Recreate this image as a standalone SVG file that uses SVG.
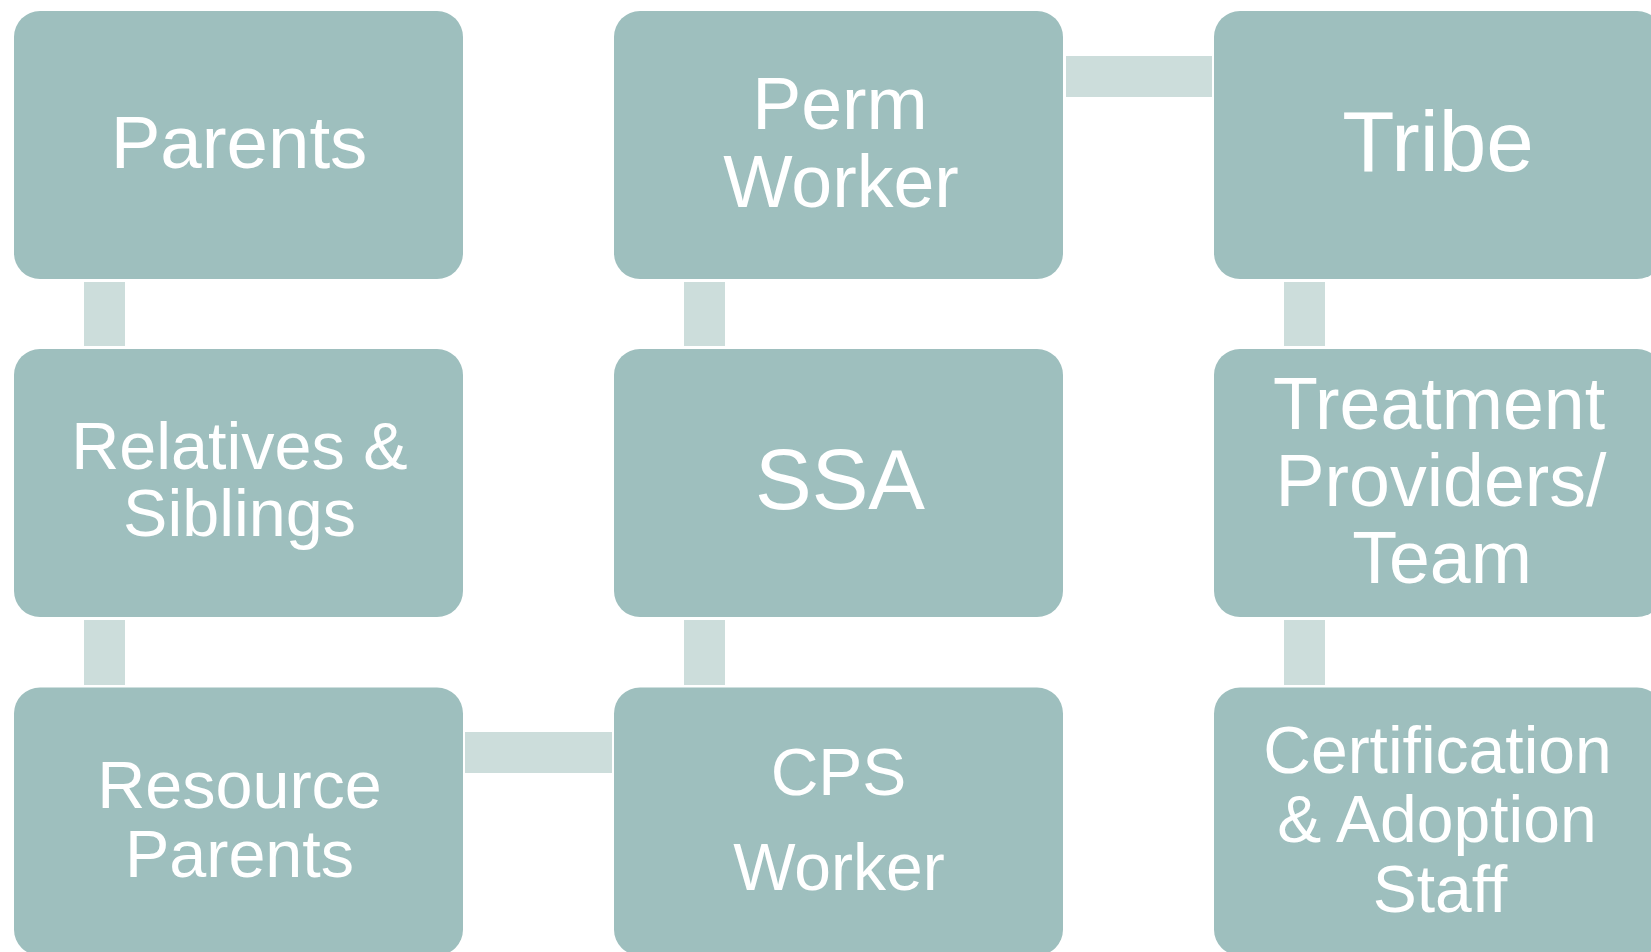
<svg xmlns="http://www.w3.org/2000/svg" width="1651" height="952" viewBox="0 0 1651 952">
<style>
.box{fill:#9EBFBE}
.con{fill:#CCDDDB}
text{font-family:"Liberation Sans",Arial,sans-serif;fill:#FFFFFF;text-anchor:middle}
</style>
<rect width="1651" height="952" fill="#FFFFFF"/>
<g id="connectors">
<rect class="con" x="84" y="282" width="41" height="64"/>
<rect class="con" x="84" y="620" width="41" height="65"/>
<rect class="con" x="684" y="282" width="41" height="64"/>
<rect class="con" x="684" y="620" width="41" height="65"/>
<rect class="con" x="1284" y="282" width="41" height="64"/>
<rect class="con" x="1284" y="620" width="41" height="65"/>
<rect class="con" x="1066" y="56" width="146" height="41"/>
<rect class="con" x="465" y="732" width="147" height="41"/>
</g>
<g id="parents">
<rect class="box" x="14" y="11" width="449" height="268" rx="26"/>
<text x="239" y="168" font-size="74.5">Parents</text>
</g>
<g id="relatives">
<rect class="box" x="14" y="349" width="449" height="268" rx="26"/>
<text x="239.5" y="469" font-size="66.5">Relatives &amp;</text>
<text x="239.5" y="536" font-size="66.5">Siblings</text>
</g>
<g id="resource-parents">
<rect class="box" x="14" y="687.5" width="449" height="268" rx="26"/>
<text x="239.5" y="808" font-size="66.5">Resource</text>
<text x="239.5" y="877" font-size="66.5">Parents</text>
</g>
<g id="perm-worker">
<rect class="box" x="614" y="11" width="449" height="268" rx="26"/>
<text x="840" y="129" font-size="73.5">Perm</text>
<text x="841" y="207" font-size="73.5">Worker</text>
</g>
<g id="ssa">
<rect class="box" x="614" y="349" width="449" height="268" rx="26"/>
<text x="840" y="509" font-size="85">SSA</text>
</g>
<g id="cps-worker">
<rect class="box" x="614" y="687.5" width="449" height="268" rx="26"/>
<text x="838.5" y="795" font-size="66">CPS</text>
<text x="839" y="890" font-size="66">Worker</text>
</g>
<g id="tribe">
<rect class="box" x="1214" y="11" width="449" height="268" rx="26"/>
<text x="1438" y="171" font-size="85.5">Tribe</text>
</g>
<g id="treatment">
<rect class="box" x="1214" y="349" width="449" height="268" rx="26"/>
<text x="1439" y="429" font-size="73.5">Treatment</text>
<text x="1441" y="506" font-size="73.5">Providers/</text>
<text x="1442" y="583" font-size="73.5">Team</text>
</g>
<g id="certification">
<rect class="box" x="1214" y="687.5" width="449" height="268" rx="26"/>
<text x="1437.5" y="773" font-size="66">Certification</text>
<text x="1437" y="842" font-size="66">&amp; Adoption</text>
<text x="1440" y="912" font-size="66">Staff</text>
</g>
</svg>
